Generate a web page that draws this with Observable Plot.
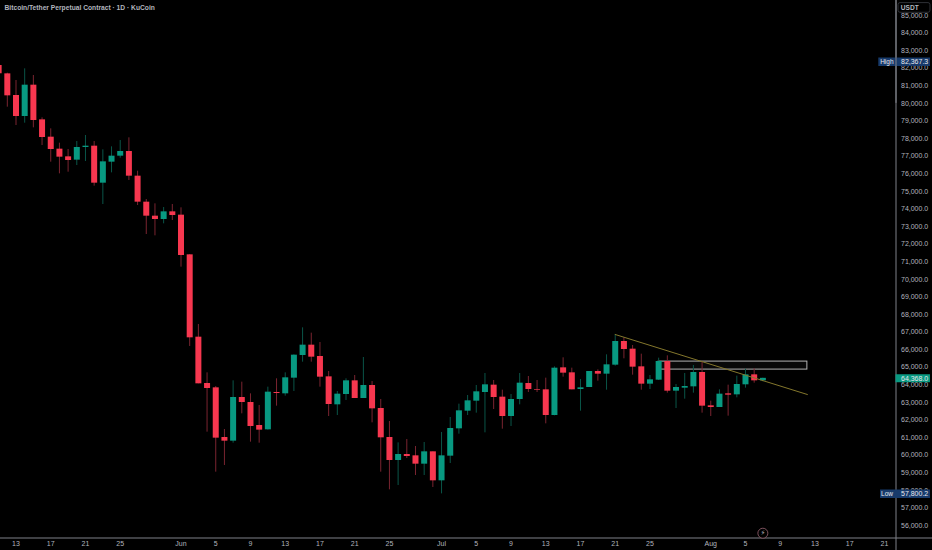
<!DOCTYPE html>
<html><head><meta charset="utf-8">
<script src="https://cdn.jsdelivr.net/npm/d3@7"></script>
<script src="https://cdn.jsdelivr.net/npm/@observablehq/plot@0.6"></script>
<style>
html,body{margin:0;padding:0;background:#000;overflow:hidden}
svg{display:block}
</style></head><body><div id="chart"></div>
<script>
// One value per day, starting 11 May.
const firstDay = Date.UTC(2024, 4, 11);
const opens = [82152,81678,80447,79253,81034,79063,78078,77396,76960,76771,77491,77566,75463,76657,76998,77263,75861,74383,73587,73397,73833,
 73644,71389,66708,64075,63828,61005,60796,63278,62994,61687,61441,63563,63487,64378,65666,66254,65609,64453,62862,63449,64226,63222,63961,62653,61005,59697,60038,59962,59488,60190,
 58541,59943,61497,62501,63070,63563,63980,63298,62198,63165,64074,63733,63714,62255,64965,64681,63733,63847,64757,64605,65117,66462,66026,65022,64037,64264,65325,63638,63809,63885,64700,
 62805,62710,63487,63430,64000,64567,64226];
const highs = [82367,81716,81300,81963,81584,79177,78552,77737,77377,77832,78173,77832,77358,77528,77888,78040,76145,74534,74288,74079,74250,
 74061,71400,67429,64681,63904,61459,64226,64150,63487,62824,63866,64340,64681,65704,67239,66936,66405,64757,63620,64340,64529,65552,64188,63165,61914,60701,60891,60493,60720,60190,
 61289,62141,62900,63392,63961,64643,64245,63695,63449,64643,64472,64245,64378,65022,65534,64946,64302,64757,64851,65704,66860,66671,66235,65742,64529,65515,65647,64018,64643,65098,65306,
 63070,63714,63980,64491,64889,64908,64378];
const lows = [81500,79783,78741,78874,78609,77604,76657,75994,76088,76467,76695,75292,74250,76050,76884,75615,74193,72545,72469,73151,73340,
 70688,66178,64056,61308,59034,59413,60682,62350,60739,60682,61422,62786,63354,63620,65287,65287,63866,62198,62255,63108,63222,63222,61838,59034,58029,58276,59811,58844,58844,58162,
 57800,59526,61194,62255,62388,61270,62596,61478,61630,62862,63563,63563,61781,62236,64435,63714,62502,63847,64207,63695,65060,65477,64548,63695,63733,64245,63525,62653,63184,63525,62388,
 62198,62710,62217,63260,63809,64093,64169];
const closes = [81678,80428,79253,81034,79025,78059,77377,76941,76751,77491,77566,75463,76676,76998,77263,75861,74383,73587,73397,73833,73625,
 71351,66671,64056,63790,60967,60796,63278,62994,61630,61422,63582,63506,64397,65685,66254,65571,64434,62881,63468,64226,63222,63961,62634,60986,59697,60038,59924,59488,60190,58541,
 59962,61516,62520,63089,63601,63999,63279,62198,63165,64093,63733,63695,62255,64946,64662,63714,63828,64757,64605,65136,66462,66007,65003,64037,64283,65325,63638,63847,63904,64700,62786,
 62710,63468,63411,64018,64567,64226,64368];

const dayMs = 864e5;
const dateOf = (i) => new Date(firstDay + i * dayMs);
const utc = (m, d, h = 0) => new Date(Date.UTC(2024, m, d, h));
const candles = opens.map((o, i) => ({date: dateOf(i), o, h: highs[i], l: lows[i], c: closes[i], up: closes[i] >= o}));

const priceTicks = d3.range(56000, 85001, 1000);
const dateTickDays = [[4,13],[4,17],[4,21],[4,25],[5,1],[5,5],[5,9],[5,13],[5,17],[5,21],[5,25],[6,1],[6,5],[6,9],[6,13],[6,17],[6,21],[6,25],[7,1],[7,5],[7,9],[7,13],[7,17],[7,21]];
const dateTicks = dateTickDays.map(([m, d]) => utc(m, d));
const monthNames = ["Jan","Feb","Mar","Apr","May","Jun","Jul","Aug"];

const trendDates = [utc(6, 21), utc(7, 12, 3)];
const trendPrices = [66860, 63449];
const zoneDates = [utc(6, 26), utc(7, 12, 3)];
const zonePrices = [64865, 65320];
const highPrice = 82367.3, lowPrice = 57800.2, lastPrice = 64368.0;
const boltDate = utc(7, 7), boltPrice = 55563;

const xMin = new Date(Date.UTC(2024,4,13) - 1.785 * dayMs);
const xMax = new Date(Date.UTC(2024,4,13) + 101.33 * dayMs);
const xLabelEnd = new Date(Date.UTC(2024,4,13) + 105.3 * dayMs);
const xHighStart = new Date(Date.UTC(2024,4,13) + 99.35 * dayMs);
const xLowStart = new Date(Date.UTC(2024,4,13) + 99.55 * dayMs);
const yMin = 55291, yMax = 85848;
const fmt = d3.format(",.1f");

const RED = "#f7374f", GREEN = "#089981", RED_W = "#7a2430", GREEN_W = "#0a5548";
const TXT = "#b2b5be", LINE = "#7f8088", BLUE = "#173a6b";
const FONT = "'Liberation Sans', Arial, sans-serif";

const chart = Plot.plot({
  width: 932, height: 550,
  marginTop: 0, marginLeft: 0, marginRight: 36.5, marginBottom: 12.5,
  style: {background: "#000", fontFamily: FONT, overflow: "visible"},
  x: {type: "utc", domain: [xMin, xMax]},
  y: {type: "linear", domain: [yMin, yMax]},
  marks: [
    Plot.rect([0], {x1: () => zoneDates[0], x2: () => zoneDates[1], y1: () => zonePrices[0], y2: () => zonePrices[1], fill: "#fff", fillOpacity: 0.03, stroke: "#b4b4b4", strokeWidth: 1}),
    Plot.ruleX(candles, {x: "date", y1: "l", y2: "h", stroke: d => d.up ? GREEN_W : RED_W, strokeWidth: 1}),
    Plot.ruleX(candles, {x: "date", y1: "o", y2: "c", stroke: d => d.up ? GREEN : RED, strokeWidth: 6}),
    Plot.line(trendDates.map((d, i) => ({d, p: trendPrices[i]})), {x: "d", y: "p", stroke: "#84772c", strokeWidth: 1}),

    Plot.ruleX([xMax], {stroke: LINE, strokeWidth: 1, insetBottom: -13}),
    Plot.ruleY([yMin], {stroke: LINE, strokeWidth: 1, insetRight: -37}),

    Plot.axisY({anchor: "right", ticks: priceTicks, tickSize: 0, tickPadding: 5, tickFormat: fmt, label: null, color: TXT, fontSize: 7}),
    Plot.axisX({anchor: "bottom", ticks: dateTicks, tickSize: 0, tickPadding: 3.5, label: null, color: TXT, fontSize: 7,
      tickFormat: d => d.getUTCDate() === 1 ? monthNames[d.getUTCMonth()] : String(d.getUTCDate())}),

    Plot.ruleY([highPrice], {x1: xHighStart, x2: xLabelEnd, stroke: BLUE, strokeWidth: 8.5}),
    Plot.ruleY([lowPrice], {x1: xLowStart, x2: xLabelEnd, stroke: BLUE, strokeWidth: 8.5}),
    Plot.ruleY([lastPrice], {x1: xMax, x2: xLabelEnd, stroke: GREEN, strokeWidth: 8}),
    Plot.ruleX([xMax], {stroke: LINE, strokeWidth: 1, y1: yMax, y2: 80000}),
    Plot.text([highPrice, lowPrice, lastPrice], {x: xMax, y: d => d, text: d => fmt(d), textAnchor: "start", dx: 5, fill: "#e8e8ec", fontSize: 7}),
    Plot.text([highPrice], {x: xMax, y: d => d, text: () => "High", textAnchor: "end", dx: -2.5, fill: "#e8e8ec", fontSize: 6.5}),
    Plot.text([lowPrice], {x: xMax, y: d => d, text: () => "Low", textAnchor: "end", dx: -3, fill: "#e8e8ec", fontSize: 6.5}),

    Plot.dot([0], {x: () => boltDate, y: () => boltPrice, r: 5, stroke: "#8a5a68", strokeWidth: 0.9, fill: "#000"}),
    Plot.text([0], {x: () => boltDate, y: () => boltPrice, text: () => "⚡", fill: "#b2b5be", fontSize: 7, fontFamily: "DejaVu Sans"}),

    Plot.text(["Bitcoin/Tether Perpetual Contract · 1D · KuCoin"], {frameAnchor: "top-left", dx: 4, dy: 7, lineAnchor: "middle", textAnchor: "start", fill: TXT, fontSize: 6.7, fontWeight: 600}),
    Plot.rect([0], {x1: () => new Date(+xMax + 0.29 * dayMs), x2: () => xLabelEnd, y1: () => 85150, y2: () => 85700, fill: "#000", stroke: "#3a3c44", strokeWidth: 0.8, rx: 2}),
    Plot.text(["USDT"], {x: () => new Date(+xMax + 0.55 * dayMs), y: () => 85425, textAnchor: "start", fill: TXT, fontSize: 6.6, fontWeight: 600})
  ]
});
document.getElementById("chart").append(chart);
</script></body></html>
